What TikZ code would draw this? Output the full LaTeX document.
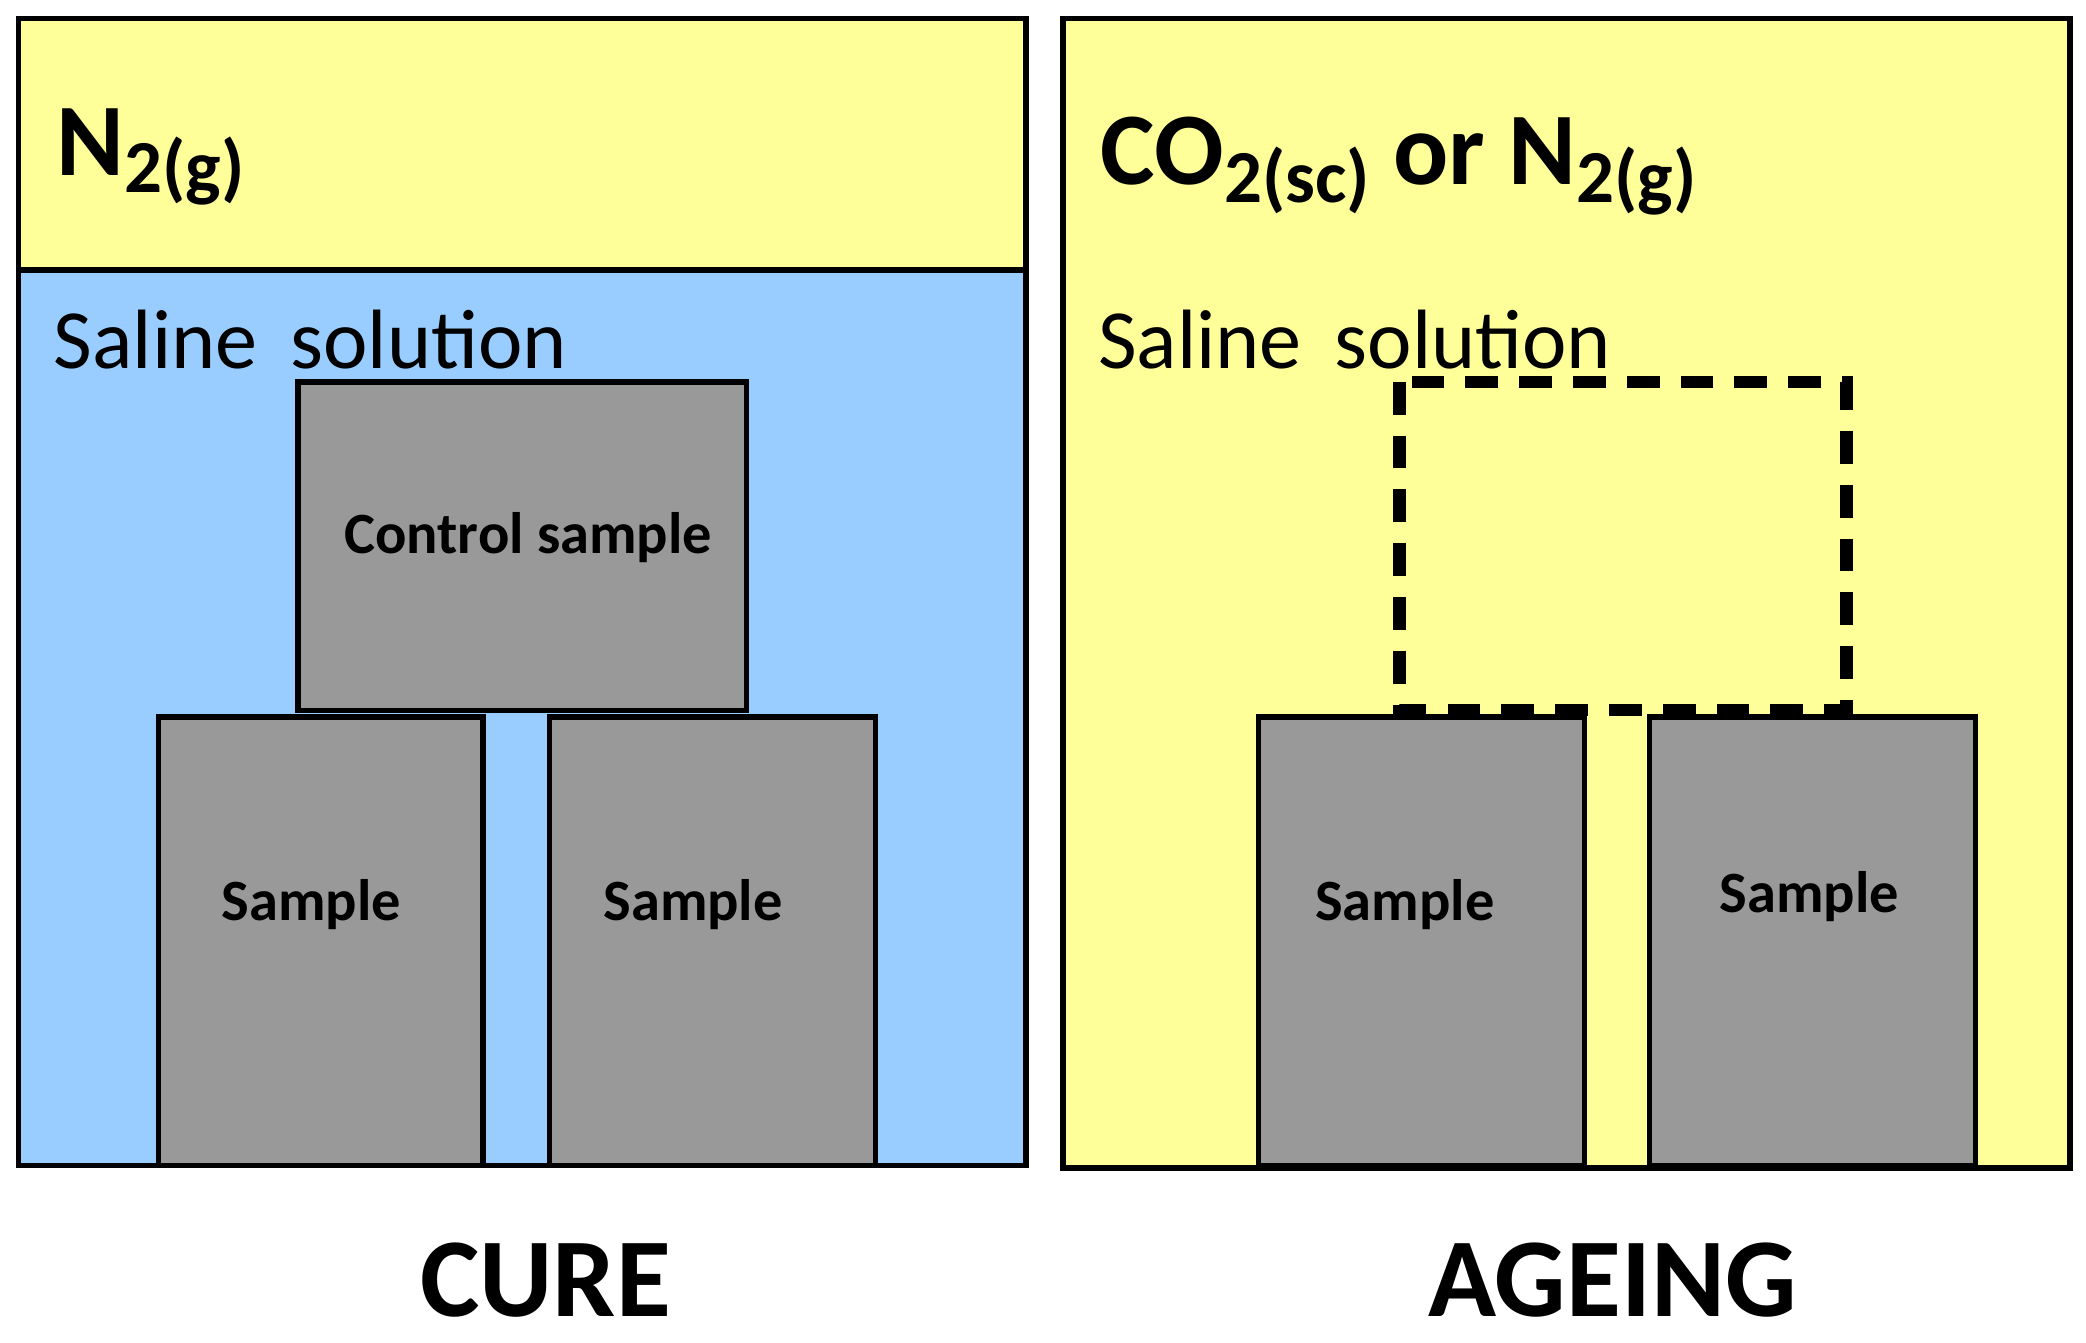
\documentclass[tikz,border=0pt]{standalone}
\usepackage{fontspec}
\setmainfont{Carlito}
\definecolor{gasyellow}{HTML}{FFFF99}
\definecolor{salineblue}{HTML}{99CCFF}
\definecolor{samplegray}{HTML}{999999}
\tikzset{
  vessel/.style={draw=black,line width=1.2pt},
  sample/.style={draw=black,fill=samplegray,line width=1.2pt},
  samplelabel/.style={font=\fontsize{12.5}{14}\selectfont\bfseries},
  phase/.style={anchor=west,font=\fontsize{18}{20}\selectfont},
  gas/.style={anchor=west,font=\fontsize{22}{26}\selectfont\bfseries},
  caption/.style={font=\fontsize{24}{28}\selectfont\bfseries}
}
\newcommand{\gsub}[1]{\raisebox{-0.35ex}{\fontsize{16}{18}\selectfont #1}}
\begin{document}
\begin{tikzpicture}[x=0.01cm,y=-0.01cm]
\useasboundingbox (0,0) rectangle (1568,1009);
% cure vessel
\fill[gasyellow] (14,14) rectangle (771,203);
\fill[salineblue] (14,203) rectangle (771,876);
\draw[vessel] (14,203) -- (771,203);
\draw[vessel] (14,14) rectangle (771,876);
\node[gas] (gascure) at (30,118) {N\gsub{2(g)}};
\node[phase] (salinecure) at (28,255) {Saline\, solution};
\draw[sample] (224,287) rectangle (561,534);
\node[samplelabel] (control) at (397,404) {Control sample};
\draw[sample] (119,539) rectangle (363,876);
\node[samplelabel] (s1) at (234,680) {Sample};
\draw[sample] (413,539) rectangle (658,876);
\node[samplelabel] (s2) at (521,680) {Sample};
\node[caption] (cure) at (410,962) {CURE};
% ageing vessel
\fill[gasyellow] (799,14) rectangle (1556,878);
\draw[vessel] (799,14) rectangle (1556,878);
\node[gas] (gasage) at (815,125) {CO\gsub{2(sc)} or N\gsub{2(g)}};
\node[phase] (salineage) at (813,255) {Saline\, solution};
\draw[black,line width=2.6pt,dash pattern=on 7pt off 4.5pt] (1052,287) rectangle (1388,534);
\draw[sample] (946,539) rectangle (1191,876);
\node[samplelabel] (s3) at (1056,680) {Sample};
\draw[sample] (1240,539) rectangle (1485,876);
\node[samplelabel] (s4) at (1360,674) {Sample};
\node[caption] (ageing) at (1212,962) {AGEING};
\end{tikzpicture}
\end{document}
